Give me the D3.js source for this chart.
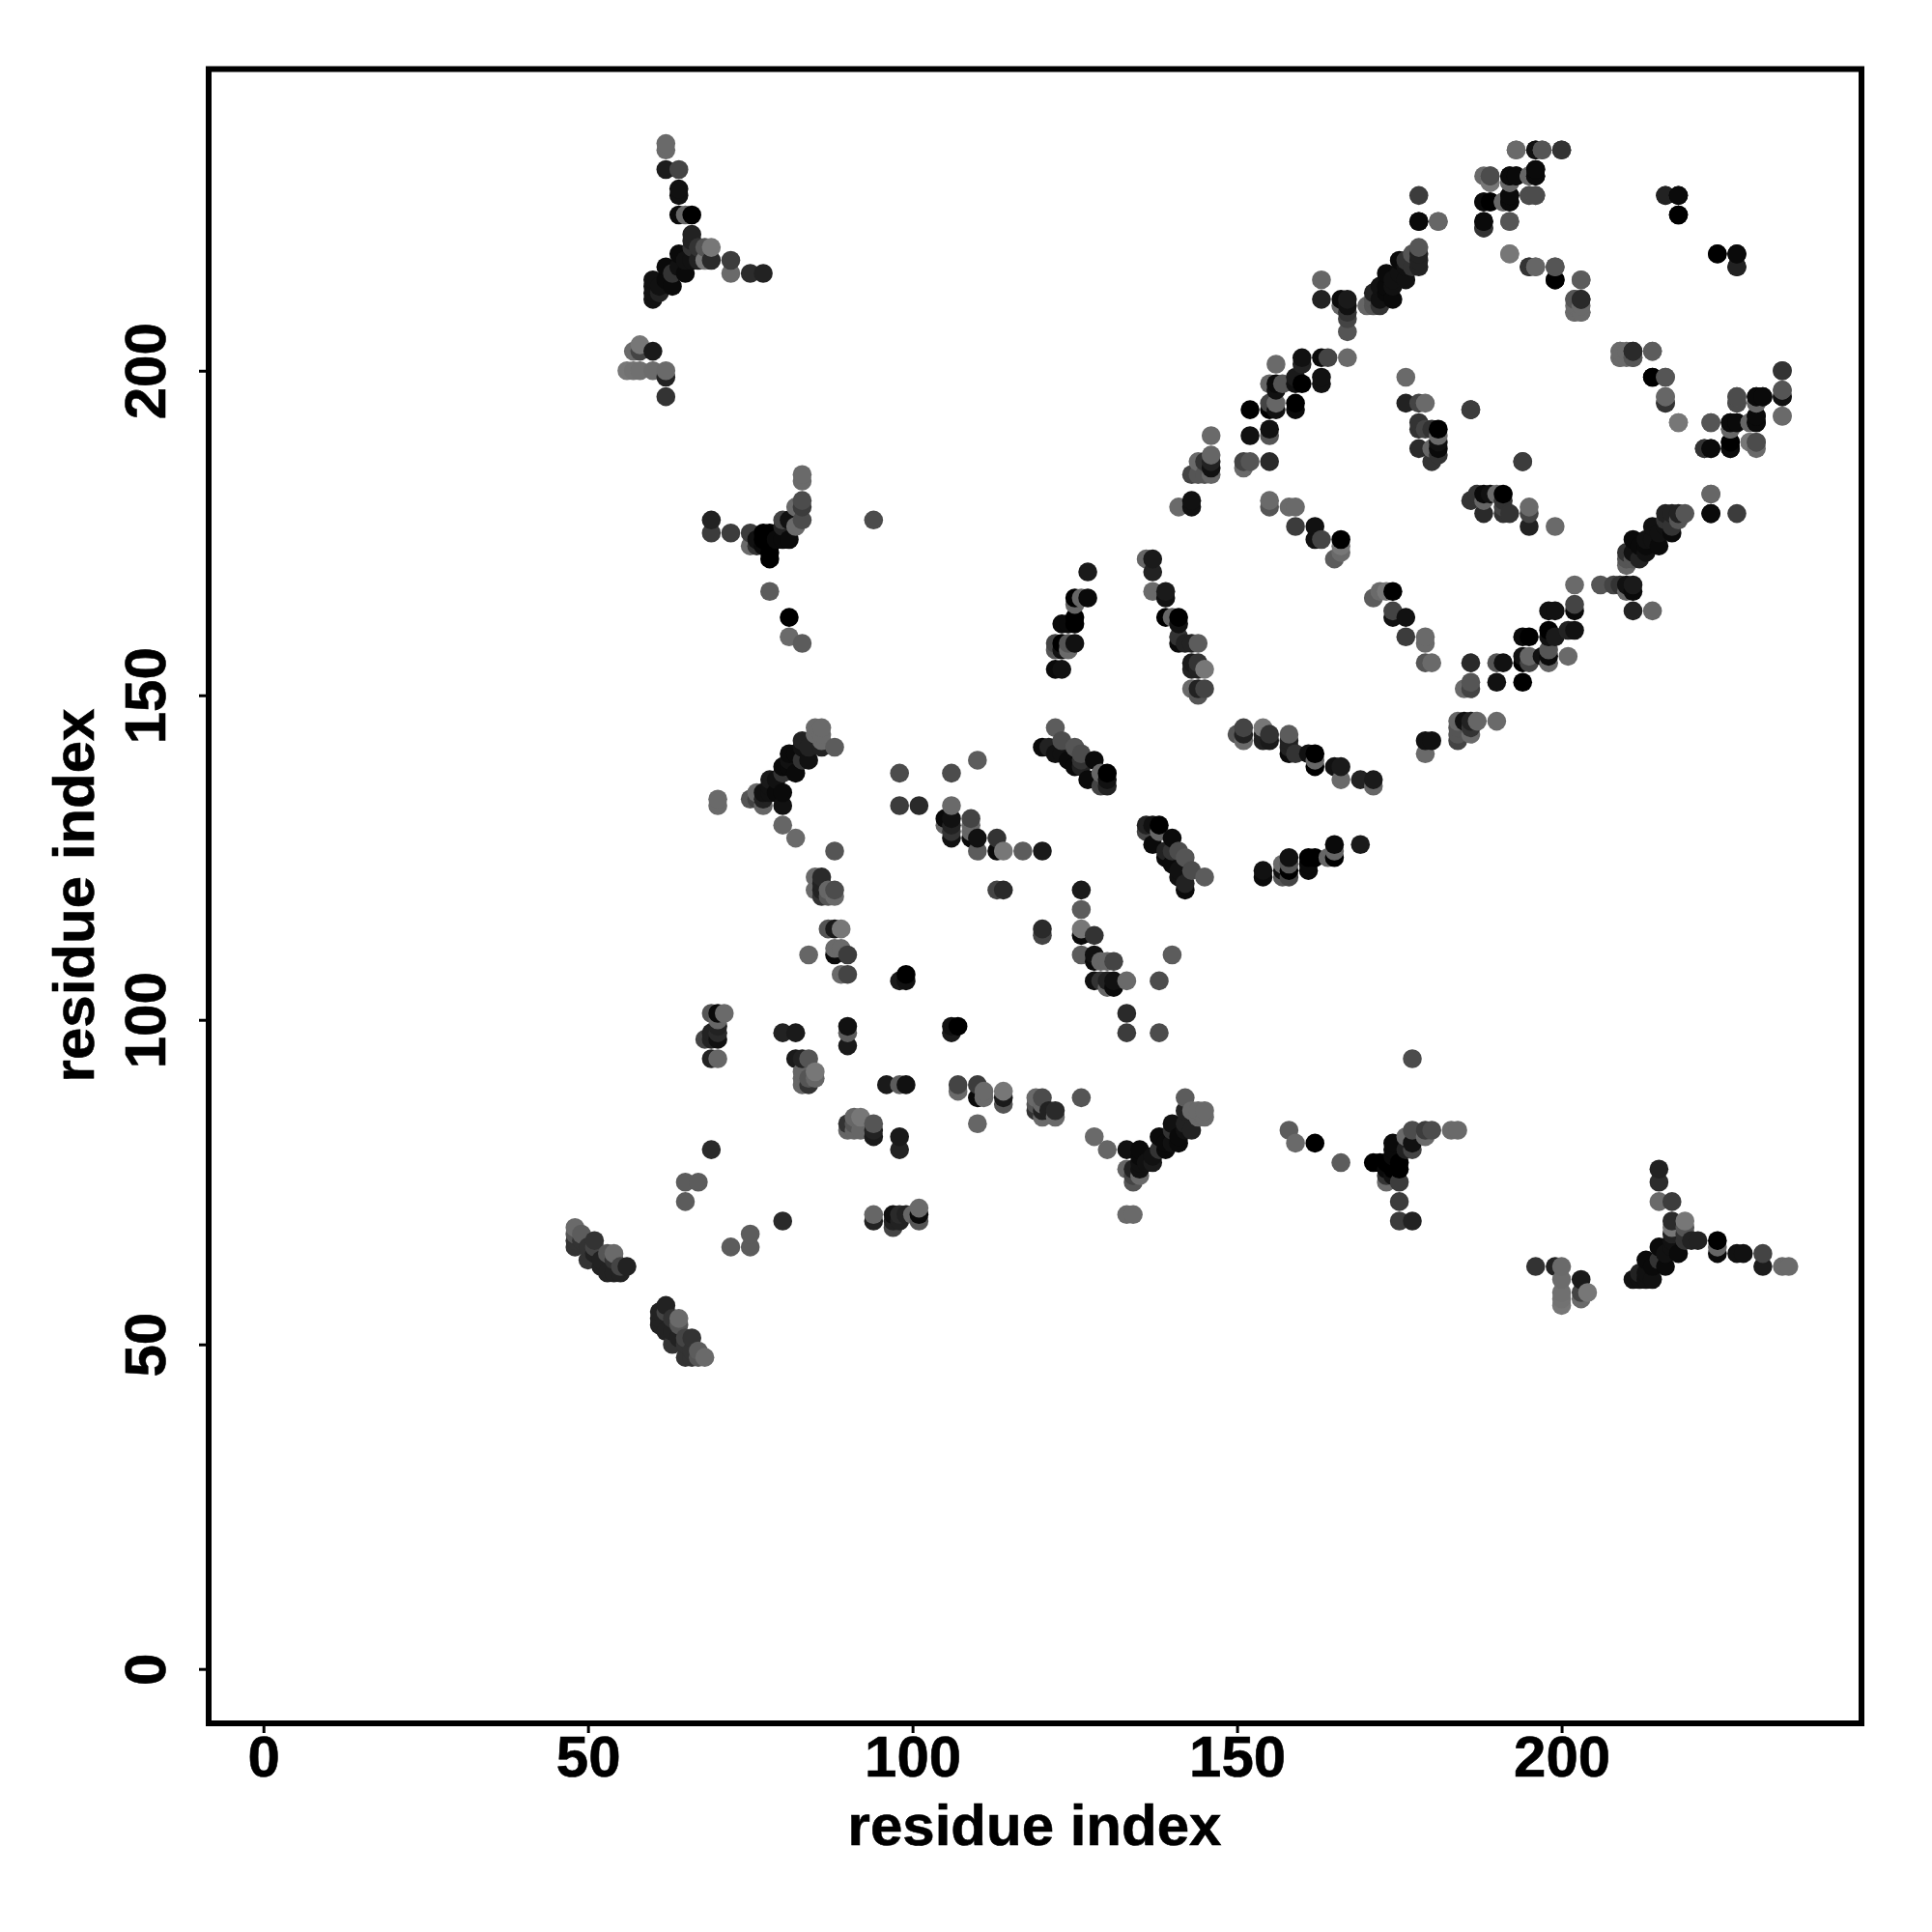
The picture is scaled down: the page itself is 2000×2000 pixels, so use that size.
<!DOCTYPE html>
<html>
<head>
<meta charset="utf-8">
<script src="https://cdn.jsdelivr.net/npm/d3@7"></script>
<style>html,body{margin:0;background:#fff}svg{display:block}</style>
</head>
<body>
<svg id="chart" width="2000" height="2000"></svg>
<script>
// Contacts as [residue i, residue j, grey level], with i < j; the map is symmetric.
const xTickValues = [0, 50, 100, 150, 200];
const yTickValues = [0, 50, 100, 150, 200];
const axisTitle = "residue index";

const contactsA = [[62,235,0x6a],[62,234,0x6a],[62,231,0x1c],[64,231,0x44],[64,228,0x11],[64,227,0x11],[64,224,0x0a],[65,224,0x66],[66,224,0x00],[66,221,0x22],[66,220,0x22],[66,219,0x33],[69,219,0x77],[68,219,0x55],[67,219,0x33],[69,217,0x2a],[68,217,0x77],[67,217,0x22],[64,218,0x0a],[65,217,0x11],[66,217,0x11],[62,216,0x0a],[64,216,0x11],[63,215,0x33],[65,215,0x0a],[60,214,0x11],[62,214,0x0a],[61,213,0x11],[63,213,0x0a],[60,213,0x11],[60,212,0x11],[61,212,0x22],[60,211,0x11],[72,217,0x3c],[72,215,0x6a],[75,215,0x2c],[77,215,0x22],
[58,204,0x77],[57,203,0x6a],[58,203,0x44],[60,203,0x1a],[56,200,0x77],[57,200,0x72],[58,200,0x70],[60,200,0x6c],[62,200,0x6a],[62,199,0x22],[62,196,0x33]];

const contactsB = [[83,184,0x6a],[83,183,0x6a],[83,180,0x4c],[83,179,0x3c],[82,179,0x6a],[83,177,0x4c],[82,176,0x6a],[80,177,0x44],[81,177,0x11],[80,176,0x22],[81,174,0x0a],[80,174,0x0a],[69,177,0x22],[69,175,0x3c],[72,175,0x3c],[75,175,0x3c],[75,173,0x6a],[76,173,0x33],[77,175,0x00],[78,175,0x00],[77,174,0x00],[78,174,0x00],[77,173,0x0a],[78,173,0x00],[78,172,0x00],[76,174,0x11],[79,174,0x0a],[78,171,0x00],[78,166,0x5c],[81,162,0x00],[81,159,0x6a],[83,158,0x5c],[94,177,0x4c],
[85,145,0x6a],[86,145,0x6a],[85,144,0x6a],[86,144,0x6a],[86,143,0x6a],[88,142,0x5c],[83,143,0x22],[84,142,0x22],[86,142,0x22],[83,142,0x11],[81,141,0x0a],[82,141,0x0a],[84,140,0x11],[83,140,0x33],[81,140,0x11],[80,139,0x0a],[82,138,0x0a],[81,139,0x0a],[80,138,0x33],[78,137,0x1a],[79,137,0x11],[78,136,0x11],[80,135,0x0a],[79,135,0x0a],[78,135,0x11],[77,135,0x11],[77,134,0x22],[76,135,0x6a],[75,134,0x55],[76,134,0x44],[77,133,0x66],[80,133,0x11],[80,130,0x66],[82,128,0x6a],[88,126,0x55],[70,134,0x6a],[70,133,0x6a],
[85,122,0x6a],[86,122,0x2a],[85,120,0x6a],[86,120,0x22],[86,121,0x22],[86,119,0x33],[87,120,0x66],[87,119,0x55],[88,120,0x4c],[88,119,0x6a],[87,114,0x55],[88,114,0x1a],[89,114,0x77],[88,111,0x6a],[89,111,0x6a],[88,110,0x0a],[90,110,0x3c],[84,110,0x66],[89,107,0x6a],[90,107,0x44],
[71,101,0x6a],[70,101,0x0a],[69,101,0x55],[70,100,0x66],[70,99,0x22],[69,98,0x22],[70,98,0x2a],[68,97,0x44],[70,97,0x11],[69,97,0x22],[70,94,0x66],[69,94,0x22],[80,98,0x22],[82,98,0x1a],[90,99,0x11],[90,98,0x5c],[90,96,0x1a],[82,94,0x1a],[83,94,0x22],[84,94,0x55],[85,92,0x77],[83,92,0x66],[83,91,0x66],[84,91,0x55],[85,91,0x66],[83,90,0x66],[84,90,0x33],[65,75,0x5c],[67,75,0x5c],[65,72,0x5c],[69,80,0x2a]];

const contactsC = [[127,169,0x1a],[125,165,0x00],[126,165,0x66],[127,165,0x0a],[125,164,0x66],[125,162,0x00],[123,161,0x0a],[124,161,0x0a],[125,161,0x00],[122,158,0x44],[123,158,0x00],[124,158,0x55],[125,158,0x11],[122,157,0x55],[123,157,0x11],[124,157,0x6a],[122,154,0x0a],[123,154,0x11],
[122,145,0x5c],[123,143,0x4c],[120,142,0x0a],[121,142,0x22],[122,141,0x11],[123,141,0x11],[125,142,0x55],[126,141,0x4c],[124,140,0x0a],[125,139,0x0a],[127,137,0x0a],[128,140,0x0a],[126,140,0x33],[126,139,0x22],[129,138,0x66],[130,138,0x00],[130,137,0x11],[129,136,0x44],[130,136,0x22],
[98,138,0x4c],[106,138,0x4c],[110,140,0x5c],[98,133,0x3c],[101,133,0x2a],[106,133,0x6a],[105,131,0x0a],[106,131,0x11],[105,130,0x66],[106,130,0x22],[106,129,0x33],[106,128,0x11],[109,131,0x44],[109,130,0x66],[109,129,0x66],[109,128,0x0a],[110,128,0x11],[113,128,0x33],[113,126,0x0a],[114,126,0x77],[110,126,0x5c],[117,126,0x5c],[120,126,0x1a],[113,120,0x44],[114,120,0x2a],[98,106,0x1a],[99,107,0x00],[99,106,0x11]];

const contactsD = [[136,171,0x66],[137,171,0x1a],[137,169,0x22],[137,166,0x6a],[139,166,0x1a],[139,165,0x11],[139,162,0x00],[140,162,0x66],[141,162,0x00],[141,161,0x11],[141,159,0x33],[141,158,0x0a],[142,158,0x22],[143,158,0x22],[144,158,0x5c],[143,155,0x1a],[144,155,0x33],[143,154,0x22],[144,154,0x22],[145,154,0x77],[143,151,0x6a],[144,151,0x22],[145,151,0x44],[144,150,0x55],
[141,179,0x6a],[143,180,0x11],[143,179,0x11],[146,190,0x6a],[144,186,0x6a],[146,187,0x66],[146,186,0x22],[146,185,0x11],[146,184,0x66],[143,184,0x44],[144,184,0x55],[145,184,0x55],[145,186,0x33],[155,180,0x6a],[155,179,0x55],[158,179,0x6a],[159,179,0x6a],[159,176,0x3c],[162,176,0x11],[162,174,0x11],[163,174,0x44],[166,174,0x00],[166,173,0x77],[166,172,0x6a],[165,171,0x5c],
[151,186,0x44],[152,186,0x55],[151,185,0x6a],[155,186,0x2a],[152,190,0x11],[155,191,0x11],[155,190,0x55],[152,194,0x00],[155,194,0x00],[155,195,0x44],[156,195,0x66],[156,194,0x11],[159,195,0x00],[159,194,0x0a],[155,198,0x66],[156,198,0x0a],[157,198,0x55],[156,197,0x11],[159,199,0x1a],[160,198,0x00],[159,198,0x11],[163,199,0x11],[163,198,0x11],[156,201,0x6a],[160,202,0x11],[160,201,0x22],[163,202,0x0a],[164,202,0x44],[167,202,0x6a]];

const contactsE = [[163,214,0x66],[163,211,0x22],[166,211,0x0a],[167,211,0x1a],[167,210,0x11],[166,210,0x66],[167,209,0x33],[167,208,0x44],[167,206,0x55],
[170,210,0x66],[171,211,0x55],[171,210,0x55],[172,211,0x11],[172,210,0x33],[174,211,0x0a],[172,213,0x11],[173,213,0x0a],[174,214,0x11],[173,215,0x0a],[174,213,0x11],[175,215,0x11],[176,214,0x11],[176,216,0x11],[175,217,0x0a],[176,217,0x33],[177,218,0x55],[177,216,0x33],[178,219,0x55],[178,218,0x22],[178,217,0x22],[178,216,0x22],[171,212,0x22],[173,212,0x0a],
[178,227,0x3c],[178,223,0x0a],[181,223,0x66],[188,230,0x6a],[189,230,0x4c],[189,229,0x6a],[192,230,0x0a],[193,230,0x0a],[195,230,0x6c],[196,230,0x00],[196,231,0x0a],[192,229,0x66],[193,234,0x6a],[196,234,0x11],[197,234,0x55],[200,234,0x33],[195,227,0x55],[196,227,0x55],[192,227,0x0a],[192,226,0x0a],[191,226,0x6a],[188,226,0x0a],[189,226,0x0a],[188,223,0x0a],[188,222,0x33],[192,223,0x66],
[216,227,0x1a],[218,227,0x00],[218,224,0x00],[224,218,0x00],[227,218,0x0a],[227,216,0x22],[192,218,0x77],[195,216,0x44],[196,216,0x6a],[199,216,0x55],[199,214,0x00],[203,214,0x66],[202,211,0x55],[203,211,0x2a],[202,210,0x6a],[202,209,0x6a],[203,209,0x6a],
[176,199,0x6a],[176,195,0x22],[178,195,0x44],[179,195,0x6a],[186,194,0x3c],[178,192,0x33],[178,191,0x33],[179,191,0x44],[180,191,0x33],[181,191,0x00],[181,190,0x6a],[178,188,0x2a],[180,188,0x66],[181,188,0x0a],[181,187,0x33],[180,186,0x33],[194,186,0x3c],[181,189,0x11],
[209,203,0x6a],[209,202,0x6a],[210,203,0x6a],[211,203,0x2a],[211,202,0x55],[214,203,0x5c],[214,199,0x00],[216,199,0x55],[216,196,0x66],[216,195,0x33],[218,192,0x77],[223,192,0x55],[222,188,0x33],[223,188,0x0a],[226,192,0x0a],[227,192,0x0a],[226,191,0x66],[226,189,0x00],[226,188,0x0a],[227,196,0x4c],[227,195,0x4c],[230,196,0x0a],[231,196,0x0a],[230,195,0x66],[230,193,0x0a],[230,192,0x0a],[229,192,0x66],[229,189,0x77],[230,189,0x4c],[234,200,0x33],[234,197,0x55],[234,196,0x11],[234,193,0x6a],[181,223,0x66],[178,223,0x0a]];

const contactsF = [[48,68,0x6a],[48,67,0x55],[48,66,0x33],[48,65,0x33],[49,67,0x5c],[49,66,0x33],[51,66,0x33],[50,65,0x33],[50,63,0x33],[51,64,0x22],[53,64,0x55],[54,64,0x6a],[52,62,0x22],[53,61,0x22],[55,62,0x44],[56,62,0x22],[54,61,0x22],[55,61,0x22],[54,63,0x33],[51,65,0x44],[52,63,0x22]];

const contacts = [contactsA, contactsB, contactsC, contactsD, contactsE, contactsF].flat();

const svg = d3.select("#chart");
const box = {left: 216, right: 1927, top: 71.5, bottom: 1784};
const x = d3.scaleLinear().domain([-8.44, 246.2]).range([box.left, box.right]);
const y = d3.scaleLinear().domain([-8.38, 246.47]).range([box.bottom, box.top]);
const font = "'Liberation Sans', Arial, sans-serif";

const points = contacts
  .flatMap(([i, j, s]) => [{a: i, b: j, s}, {a: j, b: i, s}])
  .sort((p, q) => d3.ascending(p.a, q.a) || d3.ascending(p.b, q.b));

svg.append("g").selectAll("circle").data(points).join("circle")
  .attr("cx", d => x(d.a)).attr("cy", d => y(d.b)).attr("r", 9.8)
  .attr("fill", d => d3.rgb(d.s, d.s, d.s).formatHex());

svg.append("rect")
  .attr("x", box.left).attr("y", box.top)
  .attr("width", box.right - box.left).attr("height", box.bottom - box.top)
  .attr("fill", "none").attr("stroke", "#000").attr("stroke-width", 6);

const xAxis = svg.append("g").attr("transform", `translate(0,${box.bottom})`)
  .call(d3.axisBottom(x).tickValues(xTickValues).tickSize(10).tickPadding(0));
const yAxis = svg.append("g").attr("transform", `translate(${box.left},0)`)
  .call(d3.axisLeft(y).tickValues(yTickValues).tickSize(10).tickPadding(0));
[xAxis, yAxis].forEach(g => {
  g.select(".domain").remove();
  g.selectAll(".tick line").attr("stroke", "#000").attr("stroke-width", 3);
  g.selectAll("text").attr("font-family", font).attr("font-weight", "bold")
    .attr("font-size", 60).attr("fill", "#000")
    .attr("stroke", "#000").attr("stroke-width", 0.6);
});
xAxis.selectAll("text").attr("dy", null).attr("y", 55).attr("text-anchor", "middle");
yAxis.selectAll("text").attr("dy", null).attr("x", null)
  .attr("text-anchor", "middle")
  .attr("transform", "translate(-45,0) rotate(-90)");

svg.append("text").text(axisTitle)
  .attr("x", 1071).attr("y", 1910).attr("text-anchor", "middle")
  .attr("font-family", font).attr("font-weight", "bold").attr("font-size", 60)
  .attr("stroke", "#000").attr("stroke-width", 0.6);
svg.append("text").text(axisTitle)
  .attr("transform", "translate(97,927) rotate(-90)").attr("text-anchor", "middle")
  .attr("font-family", font).attr("font-weight", "bold").attr("font-size", 60)
  .attr("stroke", "#000").attr("stroke-width", 0.6);
</script>
</body>
</html>
